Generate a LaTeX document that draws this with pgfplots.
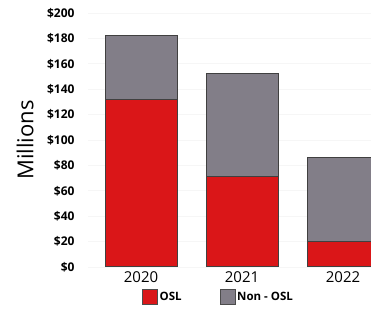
\documentclass[border=0pt]{standalone}
\usepackage{pgfplots}
\pgfplotsset{compat=1.18}
\usepackage{fontspec}
\setmainfont{Open Sans}
\definecolor{oslred}{RGB}{218,22,24}
\definecolor{nongray}{RGB}{130,126,136}
\begin{document}
\begin{tikzpicture}
\useasboundingbox (-88pt,-45pt) rectangle (283pt,267pt);
\begin{axis}[
  scale only axis,
  width=283pt, height=254pt,
  at={(0,0)}, anchor=south west,
  ybar stacked,
  bar width=0.713,
  xmin=-0.525, xmax=2.277,
  ymin=0, ymax=200,
  axis line style={draw=none},
  major tick length=0pt,
  xtick={0,1,2},
  xticklabels={2020,2021,2022},
  xticklabel style={font=\fontsize{15}{16}\selectfont, inner sep=4pt},
  ytick={0,20,...,200},
  yticklabels={\$0,\$20,\$40,\$60,\$80,\$100,\$120,\$140,\$160,\$180,\$200},
  yticklabel style={font=\fontsize{12}{13}\selectfont\bfseries, xshift=-10pt},
  /pgf/number format/assume math mode=true,
  ymajorgrids,
  grid style={gray!7, line width=0.6pt},
  ylabel={Millions},
  ylabel style={at={(axis description cs:-0.222,0.5)}, anchor=center, font=\fontsize{22}{24}\selectfont},
  legend columns=2,
  legend style={draw=none, fill=none, at={(axis description cs:0.461,-0.118)}, anchor=center,
    font=\fontsize{11.5}{13}\selectfont\bfseries,
    /tikz/every even column/.append style={column sep=36pt}},
  legend image code/.code={\draw[#1,draw=black!70,line width=0.6pt] (0pt,-7.5pt) rectangle (15pt,7.5pt);},
]
\addplot[fill=oslred, draw=black!75, line width=1pt] coordinates {(0,132) (1,71) (2,20)};
\addplot[fill=nongray, draw=black!75, line width=1pt] coordinates {(0,50) (1,81) (2,66)};
\legend{OSL, Non - OSL}
\end{axis}
\end{tikzpicture}
\end{document}
